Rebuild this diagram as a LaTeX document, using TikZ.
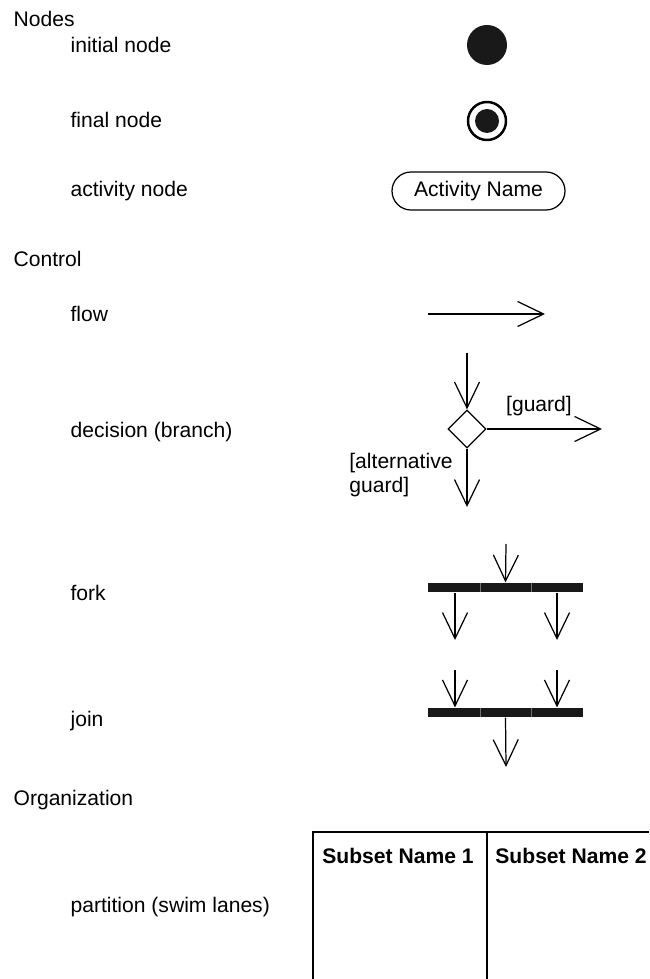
\documentclass[tikz,border=0pt]{standalone}
\usepackage{fontspec}
\setmainfont{Liberation Sans}
\usetikzlibrary{arrows.meta,shapes.geometric}

\begin{document}
\begin{tikzpicture}[>={Straight Barb[length=5.2mm,width=5mm]},x=0.2mm,y=-0.2mm,
	line width=0.7pt,
	every node/.style={font=\fontsize{12}{14}\selectfont},
	heading/.style={anchor=base west,inner sep=0pt},
	item/.style={anchor=base west,inner sep=0pt},
	bar/.style={fill=black!90,draw=none,minimum width=31mm,minimum height=1.8mm,inner sep=0pt}]
\useasboundingbox (0,0) rectangle (649,979);
% labels on the left
\node[heading] (nodes) at (13,27) {Nodes};
\node[item] (initlbl) at (70,53) {initial node};
\node[item] (finallbl) at (70,128) {final node};
\node[item] (actlbl) at (70,197) {activity node};
\node[heading] (control) at (13,267) {Control};
\node[item] (flowlbl) at (70,322) {flow};
\node[item] (declbl) at (70,437) {decision (branch)};
\node[item] (forklbl) at (70,600) {fork};
\node[item] (joinlbl) at (70,726) {join};
\node[heading] (org) at (13,805) {Organization};
\node[item] (partlbl) at (70,912) {partition (swim lanes)};
% nodes
\node[circle,fill=black!90,minimum size=8mm,inner sep=0pt] (init) at (487,45) {};
\node[circle,draw,line width=1.4pt,minimum size=7.6mm,inner sep=0pt] (final) at (487,121) {};
\node[circle,fill=black!90,minimum size=4.8mm,inner sep=0pt] (finaldot) at (final) {};
\node[draw,rounded corners=3.8mm,minimum width=34.6mm,minimum height=7.6mm] (act) at (478.5,191) {Activity Name};
% flow
\coordinate (flowa) at (428,314);
\coordinate (flowb) at (545,314);
\draw[->] (flowa)--(flowb);
% decision
\node[diamond,draw,minimum size=7.6mm,inner sep=0pt] (dec) at (467,429) {};
\coordinate (decin) at (467,353);
\coordinate (decr) at (602,429);
\coordinate (decd) at (467,507);
\draw[->] (decin)--(dec.north);
\draw[->] (dec.east)--(decr);
\draw[->] (dec.south)--(decd);
\node at (539,406) (guard) {[guard]};
\node[anchor=east,align=left] (altguard) at (459,475) {[alternative\\guard]};
% fork
\node[bar] (fork) at (505.5,587.5) {};
\coordinate (forkin) at (506,544);
\draw[->] (forkin)--(fork.north);
\foreach \x/\n in {455/forkl,557/forkr}{
\coordinate (\n) at (\x,640);
\draw[->] (fork.south -| \n)--(\n);
};
% join
\node[bar] (join) at (505.5,712.5) {};
\coordinate (joinout) at (506,767);
\draw[->] (join.south)--(joinout);
\foreach \x/\n in {455/joinl,557/joinr}{
\coordinate (\n) at (\x,670);
\draw[->] (\n)--(join.north -| \n);
};
\foreach \x in {480,531}{
\draw[black!55,line width=0.2pt] (\x,583)--(\x,592);
\draw[black!55,line width=0.2pt] (\x,708)--(\x,717);
};
% partition
\coordinate (pbl) at (313,979);
\coordinate (ptl) at (313,832);
\coordinate (ptr) at (649,832);
\coordinate (pmt) at (487,832);
\coordinate (pmb) at (487,979);
\draw[line width=1pt] (pbl)--(ptl)--(ptr);
\draw[line width=1pt] (pmt)--(pmb);
\node[anchor=base,font=\fontsize{12}{14}\selectfont\bfseries] (lane1) at (398,863) {Subset Name 1};
\node[anchor=base,font=\fontsize{12}{14}\selectfont\bfseries] (lane2) at (571,863) {Subset Name 2};
\end{tikzpicture}
\end{document}
